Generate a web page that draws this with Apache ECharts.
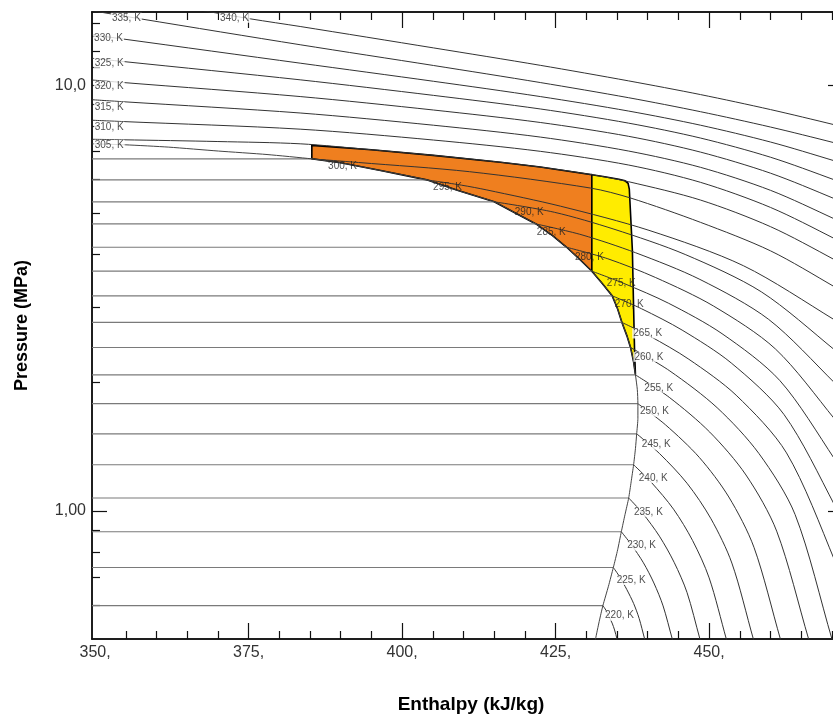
<!DOCTYPE html>
<html>
<head>
<meta charset="utf-8">
<script src="https://cdn.jsdelivr.net/npm/echarts@6.0.0/dist/echarts.min.js"></script>
<style>
  html, body { margin: 0; padding: 0; background: #fff; }
  #chart { width: 833px; height: 716px; }
</style>
</head>
<body>
<div id="chart"></div>
<script>
const FONT = '"Liberation Sans", Arial, Helvetica, sans-serif';
const X_MIN = 349.5, X_MAX = 471.8, Y_MIN = 0.5, Y_MAX = 14.85;

// two-phase isotherms: temperature (K), saturation pressure (MPa), sat. vapour enthalpy (kJ/kg)
const satT = [220, 225, 230, 235, 240, 245, 250, 255, 260, 265, 270, 275, 280, 285, 290, 295, 300];
const satP = [0.599, 0.736, 0.893, 1.072, 1.283, 1.517, 1.785, 2.086, 2.419, 2.77, 3.20, 3.655, 4.16, 4.72, 5.32, 5.99, 6.71];
const satH = [432.7, 434.4, 435.7, 436.9, 437.7, 438.2, 438.4, 438.0, 437.2, 435.8, 434.2, 430.9, 426.8, 421.8, 415.0, 404.0, 385.3];

// saturated vapour line [h, p]
const satVapor = [
  [349.5, 7.28], [355, 7.24], [362, 7.15], [370.1, 7.0], [378, 6.87], [385.3, 6.71], [390, 6.57],
  [396.5, 6.30], [404.0, 5.99], [409, 5.66], [415.0, 5.32], [418.5, 5.00], [421.8, 4.72], [424.5, 4.43],
  [426.8, 4.16], [428.9, 3.90], [430.9, 3.655], [432.6, 3.42], [434.2, 3.20], [435.1, 2.98], [435.8, 2.77],
  [436.6, 2.58], [437.2, 2.42], [437.7, 2.24], [438.0, 2.086], [438.3, 1.93], [438.4, 1.785], [438.4, 1.65],
  [438.2, 1.517], [438.0, 1.40], [437.7, 1.283], [437.3, 1.17], [436.9, 1.072], [436.3, 0.98], [435.7, 0.893],
  [435.1, 0.81], [434.4, 0.736], [433.6, 0.665], [432.7, 0.599], [432.1, 0.55], [431.5, 0.50], [431.3, 0.48]
];

// isotherms in the vapour / supercritical region [h, p]
const iso220 = [[432.7, 0.599], [433.2, 0.584], [433.7, 0.564], [434.2, 0.545], [434.6, 0.525], [435.0, 0.5], [435.2, 0.49]];
const iso225 = [[434.4, 0.736], [435.4, 0.701], [436.6, 0.653], [437.7, 0.606], [438.6, 0.559], [439.5, 0.5], [439.7, 0.49]];
const iso230 = [[435.7, 0.893], [437.3, 0.834], [439.3, 0.755], [441.0, 0.677], [442.5, 0.598], [444.0, 0.5], [444.2, 0.49]];
const iso235 = [[436.9, 1.072], [439.2, 0.986], [441.9, 0.872], [444.3, 0.757], [446.4, 0.643], [448.5, 0.5], [448.7, 0.49]];
const iso240 = [[437.7, 1.283], [440.6, 1.166], [444.2, 1.009], [447.3, 0.852], [450.0, 0.696], [452.8, 0.5], [453.0, 0.49]];
const iso245 = [[438.2, 1.517], [441.9, 1.364], [446.4, 1.161], [450.3, 0.958], [453.7, 0.754], [457.2, 0.5], [457.4, 0.49]];
const iso250 = [[438.4, 1.785], [442.9, 1.592], [448.4, 1.335], [453.2, 1.078], [457.3, 0.821], [461.6, 0.5], [461.8, 0.49]];
const iso255 = [[438.0, 2.086], [443.5, 1.848], [450.1, 1.531], [456.0, 1.214], [461.0, 0.896], [466.2, 0.5], [466.4, 0.49]];
const iso260 = [[437.2, 2.419], [443.6, 2.131], [451.3, 1.747], [458.1, 1.364], [464.0, 0.980], [470.0, 0.5], [470.2, 0.49]];
const iso265 = [[435.8, 2.77], [440.4, 2.57], [446.7, 2.27], [454.4, 1.869], [462.6, 1.368], [470.4, 0.767], [472, 0.645]];
const iso270 = [[434.2, 3.20], [439.0, 2.983], [445.6, 2.658], [453.6, 2.225], [462.2, 1.683], [470.4, 1.033], [472, 0.906]];
const iso275 = [[430.9, 3.655], [436.1, 3.422], [443.4, 3.073], [452.1, 2.607], [461.5, 2.024], [470.4, 1.325], [472, 1.20]];
const iso280 = [[426.8, 4.16], [433.5, 3.909], [441.3, 3.531], [450.7, 3.028], [460.8, 2.40], [470.4, 1.645], [472, 1.52]];
const iso285 = [[421.8, 4.72], [429.3, 4.448], [438.0, 4.04], [448.5, 3.496], [459.7, 2.816], [470.4, 2.0], [472, 1.88]];
const iso290 = [[415.0, 5.32], [424.8, 5.027], [434.5, 4.588], [446.1, 4.001], [458.5, 3.269], [470.4, 2.39], [472, 2.27]];
const iso295 = [[404.0, 5.99], [409.7, 5.82], [413.8, 5.672], [425.8, 5.195], [440.2, 4.559], [455.6, 3.764], [470.4, 2.81], [472, 2.70]];
const iso300 = [[385.3, 6.71], [392.9, 6.58], [411.0, 6.26], [430.7, 5.73], [437.2, 5.43], [448.6, 4.76], [460.0, 4.08], [470.4, 3.36], [472, 3.24]];
const iso305 = [[349.5, 7.46], [354.6, 7.44], [370, 7.37], [383.4, 7.28], [395, 7.05], [405.1, 6.84], [416, 6.59], [422.5, 6.42], [430.9, 6.16], [436.9, 5.93], [448.6, 5.37], [460, 4.65], [470.4, 3.89], [472, 3.75]];
const iso310 = [[349.5, 8.27], [354.6, 8.21], [383.4, 7.88], [405.1, 7.43], [422.5, 6.99], [436.9, 6.49], [448.6, 5.91], [460, 5.16], [470.4, 4.36], [472, 4.21]];
const iso315 = [[349.5, 9.24], [354.6, 9.14], [383.4, 8.60], [405.1, 8.05], [422.5, 7.55], [436.9, 7.00], [448.6, 6.41], [460, 5.66], [470.4, 4.85], [472, 4.71]];
const iso320 = [[349.5, 10.28], [354.6, 10.14], [383.4, 9.40], [405.1, 8.74], [422.5, 8.17], [436.9, 7.58], [448.6, 6.96], [460, 6.21], [470.4, 5.41], [472, 5.26]];
const iso325 = [[349.5, 11.56], [354.6, 11.36], [383.4, 10.29], [405.1, 9.46], [422.5, 8.79], [436.9, 8.14], [448.6, 7.51], [460, 6.77], [470.4, 5.99], [472, 5.85]];
const iso330 = [[349.5, 13.13], [354.6, 12.83], [383.4, 11.26], [405.1, 10.21], [422.5, 9.40], [436.9, 8.69], [448.6, 8.05], [460, 7.35], [470.4, 6.64], [472, 6.52]];
const iso335 = [[349, 15.0], [357.4, 14.31], [383.4, 12.44], [405.1, 11.12], [422.5, 10.14], [436.9, 9.34], [448.6, 8.66], [460, 7.97], [470.4, 7.32], [472, 7.20]];
const iso340 = [[366, 15.1], [375.3, 14.31], [383.4, 13.73], [405.1, 12.23], [422.5, 11.13], [436.9, 10.23], [448.6, 9.50], [460, 8.76], [470.4, 8.07], [472, 7.95]];

const isotherms = [iso220, iso225, iso230, iso235, iso240, iso245, iso250, iso255, iso260, iso265, iso270,
  iso275, iso280, iso285, iso290, iso295, iso300, iso305, iso310, iso315, iso320, iso325, iso330, iso335, iso340];

// isotherm labels (text centre)
const labelT = [220, 225, 230, 235, 240, 245, 250, 255, 260, 265, 270, 275, 280, 285, 290, 295, 300, 305, 310, 315, 320, 325, 330, 335, 340];
const labelH = [435.4, 437.3, 439.0, 440.1, 440.9, 441.4, 441.1, 441.8, 440.2, 440.0, 437.0, 435.7, 430.5, 424.3, 420.7, 407.4, 390.3, 352.3, 352.3, 352.3, 352.3, 352.3, 352.2, 355.1, 372.7];
const labelP = [0.567, 0.688, 0.828, 0.995, 1.195, 1.43, 1.71, 1.945, 2.30, 2.61, 3.05, 3.43, 3.95, 4.52, 5.04, 5.74, 6.46, 7.24, 7.98, 8.89, 9.96, 11.28, 12.85, 14.39, 14.39];

// shaded regions
const orangeZone = [[385.3, 7.22], [395, 7.05], [405.1, 6.84], [416, 6.59], [422.5, 6.42], [430.9, 6.16], [430.9, 3.655],
  [428.9, 3.90], [426.8, 4.16], [424.5, 4.43], [421.8, 4.72], [418.5, 5.00], [415.0, 5.32], [409, 5.66], [404.0, 5.99],
  [396.5, 6.30], [390, 6.57], [385.3, 6.71]];
const yellowZone = [[430.9, 6.16], [433, 6.09], [435.3, 6.01], [436.3, 5.96], [436.8, 5.88], [437.0, 5.70], [437.2, 5.0],
  [437.5, 4.10], [437.7, 3.0], [437.85, 2.4], [438.0, 2.086], [437.7, 2.24], [437.2, 2.42], [436.6, 2.58], [435.8, 2.77],
  [435.1, 2.98], [434.2, 3.20], [432.6, 3.42], [430.9, 3.655]];

// ticks
const xLabelVals = [350, 375, 400, 425, 450];
const xMajorTicks = [375, 400, 425, 450];
const xMinorTicks = [355, 360, 365, 370, 380, 385, 390, 395, 405, 410, 415, 420, 430, 435, 440, 445, 455, 460, 465, 470];
const yMajorTicks = [1, 10];
const yMinorTicks = [0.6, 0.7, 0.8, 0.9, 2, 3, 4, 5, 6, 7, 8, 9, 11, 12, 13, 14];

const chart = echarts.init(document.getElementById('chart'));

function xAx(pos, ticks, len, extra) {
  return Object.assign({
    type: 'value', min: X_MIN, max: X_MAX, position: pos,
    axisLine: { show: true, onZero: false, lineStyle: { color: '#111', width: 1.5 } },
    axisTick: { show: true, inside: true, length: len, customValues: ticks, lineStyle: { color: '#111', width: 1.2 } },
    axisLabel: { show: false },
    splitLine: { show: false }
  }, extra || {});
}
function yAx(pos, ticks, len, extra) {
  return Object.assign({
    type: 'log', logBase: 10, min: Y_MIN, max: Y_MAX, position: pos,
    axisLine: { show: true, onZero: false, lineStyle: { color: '#111', width: 1.5 } },
    axisTick: { show: true, inside: true, length: len, customValues: ticks, lineStyle: { color: '#111', width: 1.2 } },
    axisLabel: { show: false },
    splitLine: { show: false }
  }, extra || {});
}

function line(data, color, width, smooth, z) {
  return {
    type: 'line', data: data, xAxisIndex: 0, yAxisIndex: 0, symbol: 'none', silent: true,
    smooth: smooth, lineStyle: { color: color, width: width }, z: z
  };
}
function zone(points, fill) {
  return {
    type: 'custom', coordinateSystem: 'cartesian2d', xAxisIndex: 0, yAxisIndex: 0, silent: true, z: 1,
    data: [points[0]],
    renderItem: function (params, api) {
      return {
        type: 'polygon',
        shape: { points: points.map(function (pt) { return api.coord(pt); }), smooth: 0 },
        style: { fill: fill, stroke: '#000', lineWidth: 1.6 }
      };
    }
  };
}

const series = [];
series.push(zone(orangeZone, '#EF7F1F'));
series.push(zone(yellowZone, '#FFEC00'));
satT.forEach(function (t, i) {
  series.push(line([[X_MIN, satP[i]], [satH[i], satP[i]]], '#7a7a7a', 1.2, false, 2));
});
isotherms.forEach(function (d) {
  series.push(line(d, '#333', 1, 0.3, 3));
});
series.push(line(satVapor, '#444', 1, 0.2, 4));
series.push({
  type: 'scatter', xAxisIndex: 0, yAxisIndex: 0, symbolSize: 0, silent: true, z: 10,
  data: labelT.map(function (t, i) {
    const inZone = t >= 270 && t <= 300;
    return {
      value: [labelH[i], labelP[i]], name: t + ', K',
      label: { backgroundColor: inZone ? 'transparent' : '#fff' }
    };
  }),
  label: {
    show: true, position: 'inside', formatter: '{b}', fontSize: 10, color: '#222',
    fontFamily: FONT, padding: [0, 1]
  }
});

chart.setOption({
  animation: false,
  backgroundColor: '#fff',
  grid: { left: 92, top: 12, width: 751, height: 627, containLabel: false, outerBoundsMode: 'none' },
  xAxis: [
    xAx('bottom', xMajorTicks, 16, {
      name: 'Enthalpy (kJ/kg)', nameLocation: 'middle', nameGap: 56,
      nameTextStyle: { fontSize: 19, fontWeight: 'bold', color: '#000', fontFamily: FONT, padding: [0, 0, 0, 7] },
      axisLabel: {
        show: true, customValues: xLabelVals, margin: 6, fontSize: 16, color: '#333', fontFamily: FONT,
        formatter: function (v) { return v + ','; }
      }
    }),
    xAx('bottom', xMinorTicks, 8),
    xAx('top', xMajorTicks, 16),
    xAx('top', xMinorTicks, 8)
  ],
  yAxis: [
    yAx('left', yMajorTicks, 15, {
      name: 'Pressure (MPa)', nameLocation: 'middle', nameGap: 61,
      nameTextStyle: { fontSize: 18, fontWeight: 'bold', color: '#000', fontFamily: FONT },
      axisLabel: {
        show: true, customValues: yMajorTicks, margin: 6, fontSize: 16, color: '#333', fontFamily: FONT,
        formatter: function (v) { return Math.abs(v - 1) < 1e-6 ? '1,00' : '10,0'; }
      }
    }),
    yAx('left', yMinorTicks, 8),
    yAx('right', yMajorTicks, 15)
  ],
  series: series
});
</script>
</body>
</html>
